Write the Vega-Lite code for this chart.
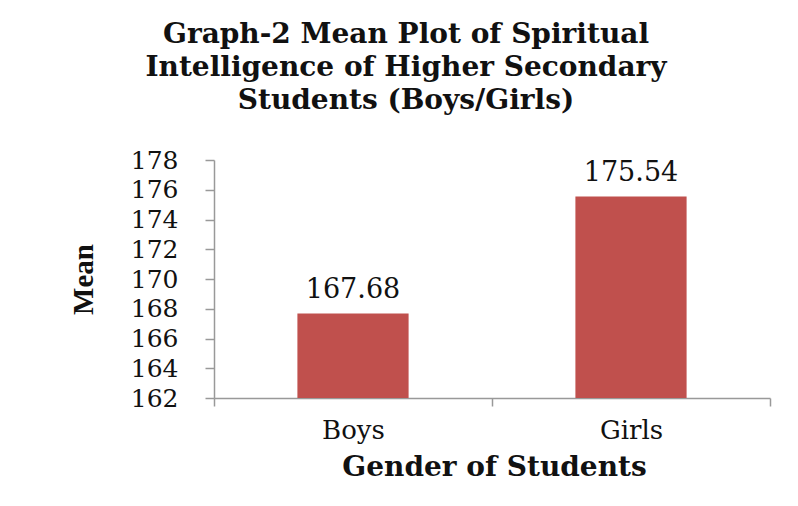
{
  "$schema": "https://vega.github.io/schema/vega-lite/v6.json",
  "width": 556,
  "height": 238,
  "autosize": {"type": "none"},
  "padding": {"left": 214, "top": 160, "right": 28, "bottom": 108},
  "background": "white",
  "title": {
    "text": ["Graph-2 Mean Plot of Spiritual", "Intelligence of Higher Secondary", "Students (Boys/Girls)"],
    "font": "DejaVu Serif",
    "fontSize": 28,
    "fontWeight": "bold",
    "color": "#111111",
    "anchor": "middle",
    "frame": "group",
    "dx": -86,
    "lineHeight": 33,
    "offset": 33
  },
  "data": {
    "values": [
      {"gender": "Boys", "mean": 167.68},
      {"gender": "Girls", "mean": 175.54}
    ]
  },
  "encoding": {
    "x": {
      "field": "gender",
      "type": "nominal",
      "sort": null,
      "scale": {"paddingInner": 0, "paddingOuter": 0},
      "axis": {
        "title": "Gender of Students",
        "labelAngle": 0,
        "tickBand": "extent",
        "tickSize": 8,
        "labelPadding": 11,
        "labelFontSize": 26,
        "labelFont": "DejaVu Serif",
        "labelColor": "#111111",
        "titleFont": "DejaVu Serif",
        "titleFontSize": 28,
        "titleFontWeight": "bold",
        "titleColor": "#111111",
        "titleY": 55,
        "titleX": 280,
        "titleAnchor": "middle",
        "titleAlign": "center",
        "domainColor": "#999999",
        "tickColor": "#999999",
        "domainWidth": 1.5,
        "tickWidth": 1.5
      }
    },
    "y": {
      "field": "mean",
      "type": "quantitative",
      "scale": {"domain": [162, 178], "zero": false, "nice": false},
      "axis": {
        "title": "Mean",
        "values": [162, 164, 166, 168, 170, 172, 174, 176, 178],
        "grid": false,
        "tickSize": 9,
        "labelPadding": 27,
        "labelFontSize": 25,
        "labelFont": "DejaVu Serif",
        "labelColor": "#111111",
        "titleFont": "Liberation Serif",
        "titleFontSize": 29,
        "titleFontWeight": "bold",
        "titleColor": "#111111",
        "titleX": -131,
        "titleY": 119,
        "titleAngle": -90,
        "titleBaseline": "middle",
        "titleAlign": "center",
        "domainColor": "#999999",
        "tickColor": "#999999",
        "domainWidth": 1.5,
        "tickWidth": 1.5
      }
    }
  },
  "layer": [
    {
      "mark": {"type": "bar", "color": "#C0504D", "width": {"band": 0.4}},
      "encoding": {"y2": {"datum": 162}}
    },
    {
      "mark": {"type": "text", "baseline": "alphabetic", "dy": -16, "font": "DejaVu Serif", "fontSize": 27, "color": "#111111"},
      "encoding": {"text": {"field": "mean", "type": "quantitative", "format": ".2f"}}
    }
  ],
  "config": {"view": {"stroke": null}}
}
